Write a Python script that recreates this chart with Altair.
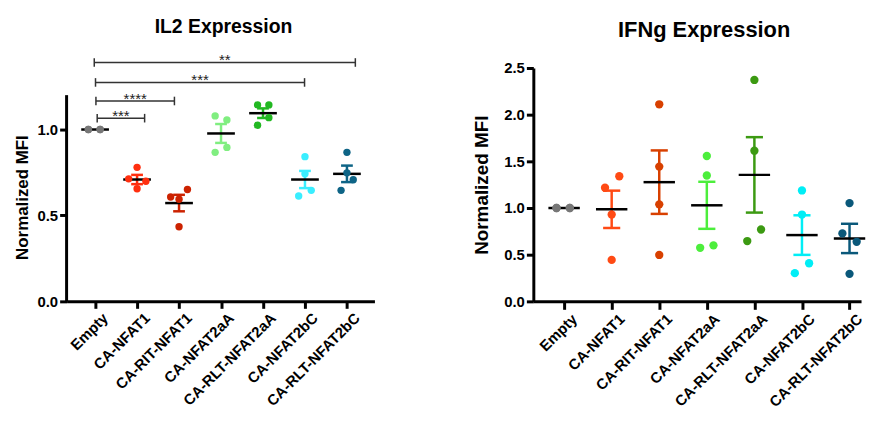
import altair as alt
import pandas as pd

FONT = "Liberation Sans"

categories = ["Empty", "CA-NFAT1", "CA-RIT-NFAT1", "CA-NFAT2aA",
              "CA-RLT-NFAT2aA", "CA-NFAT2bC", "CA-RLT-NFAT2bC"]

# ---- IL2 panel ----
il2_values = [
    [1.0, 1.0, 1.0, 1.0],
    [0.713, 0.780, 0.699, 0.655],
    [0.607, 0.594, 0.651, 0.434],
    [1.079, 1.056, 0.867, 0.896],
    [1.143, 1.143, 1.069, 1.025],
    [0.842, 0.742, 0.646, 0.613],
    [0.867, 0.748, 0.708, 0.646],
]
il2_jitter = [
    [-0.16, 0.12, -0.16, 0.12],
    [-0.2, 0.0, 0.21, 0.0],
    [-0.2, 0.0, 0.2, 0.0],
    [-0.14, 0.14, -0.14, 0.14],
    [-0.13, 0.14, 0.14, -0.13],
    [0.0, 0.0, 0.15, -0.15],
    [0.0, 0.0, 0.15, -0.14],
]
il2_mean = [1.0, 0.709, 0.572, 0.977, 1.095, 0.709, 0.742]
il2_sem = [0.0, 0.027, 0.048, 0.055, 0.028, 0.050, 0.048]
il2_colors = ["#777777", "#FF2F0F", "#CC2200", "#80EE80", "#22B822", "#3AEEFF", "#0E6486"]

sig_start = [0.05, 0.02, 0.01, -0.02]
sig_end = [1.18, 1.89, 4.99, 6.2]
sig_level = [1.066, 1.166, 1.274, 1.39]
sig_label = ["***", "****", "***", "**"]

# ---- IFNg panel ----
ifng_values = [
    [1.0, 1.0, 1.0, 1.0],
    [1.340, 1.217, 0.930, 0.444],
    [2.111, 1.444, 1.039, 0.497],
    [1.557, 1.348, 0.574, 0.600],
    [2.372, 1.614, 0.646, 0.770],
    [1.188, 0.930, 0.408, 0.302],
    [1.053, 0.728, 0.638, 0.295],
]
ifng_jitter = [
    [-0.16, 0.12, -0.16, 0.12],
    [0.16, -0.14, 0.0, 0.0],
    [0.0, 0.0, 0.0, 0.0],
    [0.0, 0.0, -0.14, 0.14],
    [0.0, 0.0, -0.15, 0.14],
    [0.0, 0.0, 0.15, -0.15],
    [0.0, -0.15, 0.15, 0.0],
]
ifng_mean = [1.0, 0.986, 1.277, 1.029, 1.355, 0.710, 0.674]
ifng_sem = [0.0, 0.200, 0.340, 0.252, 0.404, 0.212, 0.157]
ifng_colors = ["#777777", "#FF4A14", "#D84000", "#4CEE3C", "#3C9A12", "#00EEF6", "#0A587A"]

label_expr = "[" + ",".join('"%s"' % c for c in categories) + "][datum.value]"


def build_points(values, jitter, prefix):
    rows = []
    for i, (vals, offs) in enumerate(zip(values, jitter)):
        for v, o in zip(vals, offs):
            rows.append({"cat": prefix + categories[i], "xpos": i + o, "value": v})
    return pd.DataFrame(rows)


def build_summary(means, sems, prefix):
    return pd.DataFrame({"cat": [prefix + c for c in categories],
                         "idx": list(range(len(categories))),
                         "mean": means, "sem": sems})


def panel(values, jitter, means, sems, colors, prefix, xdom, ydom, yticks,
          xlabel_size, ytitle_size, dot_size, cap_half, show_ydomain, ytitle_pad,
          xtick_size, ytitle_y=None):
    xscale = alt.Scale(domain=xdom, nice=False, zero=False)
    yscale = alt.Scale(domain=ydom, nice=False, zero=False)
    xaxis = alt.Axis(values=list(range(len(categories))), labelExpr=label_expr,
                     labelAngle=-45, labelAlign="right", labelBaseline="top",
                     labelFontSize=xlabel_size, labelFont=FONT, labelFontWeight="bold",
                     labelColor="black", labelPadding=2, labelOffset=5,
                     tickSize=xtick_size, tickWidth=3,
                     tickColor="black", domainColor="black", domainWidth=3,
                     grid=False, title=None, labelOverlap=False)
    ykw = dict(values=yticks, format=".1f", labelFontSize=15, labelFont=FONT,
               labelFontWeight="bold", labelColor="black", labelPadding=2,
               tickSize=7, tickWidth=3, tickColor="black", domain=show_ydomain,
               domainColor="black", domainWidth=3, grid=False,
               title="Normalized MFI", titleFont=FONT, titleFontSize=ytitle_size,
               titleFontWeight="bold", titleColor="black", titlePadding=ytitle_pad)
    if ytitle_y is not None:
        ykw["titleY"] = ytitle_y
    yaxis = alt.Axis(**ykw)
    cscale = alt.Scale(domain=[prefix + c for c in categories], range=colors)

    pts = build_points(values, jitter, prefix)
    summ = build_summary(means, sems, prefix)

    base_s = alt.Chart(summ)
    err = base_s.transform_filter("datum.sem > 0").transform_calculate(
        lo="datum.mean - datum.sem", hi="datum.mean + datum.sem"
    ).mark_rule(strokeWidth=2.5).encode(
        x=alt.X("idx:Q", scale=xscale, axis=xaxis),
        y=alt.Y("lo:Q", scale=yscale, axis=yaxis),
        y2="hi:Q",
        color=alt.Color("cat:N", scale=cscale, legend=None),
    )
    caps_hi = base_s.transform_filter("datum.sem > 0").transform_calculate(
        a="datum.idx - %f" % cap_half, b="datum.idx + %f" % cap_half,
        yy="datum.mean + datum.sem"
    ).mark_rule(strokeWidth=2.5).encode(
        x=alt.X("a:Q", scale=xscale, axis=xaxis), x2="b:Q",
        y=alt.Y("yy:Q", scale=yscale, axis=yaxis),
        color=alt.Color("cat:N", scale=cscale, legend=None),
    )
    caps_lo = base_s.transform_filter("datum.sem > 0").transform_calculate(
        a="datum.idx - %f" % cap_half, b="datum.idx + %f" % cap_half,
        yy="datum.mean - datum.sem"
    ).mark_rule(strokeWidth=2.5).encode(
        x=alt.X("a:Q", scale=xscale, axis=xaxis), x2="b:Q",
        y=alt.Y("yy:Q", scale=yscale, axis=yaxis),
        color=alt.Color("cat:N", scale=cscale, legend=None),
    )
    mean_line = base_s.transform_calculate(
        a="datum.idx - 0.33", b="datum.idx + 0.33"
    ).mark_rule(strokeWidth=2.5, color="black").encode(
        x=alt.X("a:Q", scale=xscale, axis=xaxis), x2="b:Q",
        y=alt.Y("mean:Q", scale=yscale, axis=yaxis),
    )
    dots = alt.Chart(pts).mark_circle(size=dot_size, opacity=1).encode(
        x=alt.X("xpos:Q", scale=xscale, axis=xaxis),
        y=alt.Y("value:Q", scale=yscale, axis=yaxis),
        color=alt.Color("cat:N", scale=cscale, legend=None),
    )
    layers = [err, caps_hi, caps_lo, mean_line, dots]
    return layers, xscale, yscale, xaxis, yaxis


LX = [-0.679, 6.655]
left_layers, lxs, lys, lxa, lya = panel(
    il2_values, il2_jitter, il2_mean, il2_sem, il2_colors, "IL2 ",
    xdom=LX, ydom=[0, 1.358], yticks=[0, 0.5, 1.0],
    xlabel_size=15, ytitle_size=17, dot_size=55, cap_half=0.14,
    show_ydomain=False, ytitle_pad=6, xtick_size=7, ytitle_y=130)

# left y axis line drawn only up to 1.2
yline = alt.Chart(pd.DataFrame({"x": [LX[0]], "y1": [0.0], "y2": [1.2]})).mark_rule(
    strokeWidth=3, color="black").encode(
    x=alt.X("x:Q", scale=lxs, axis=lxa),
    y=alt.Y("y1:Q", scale=lys, axis=lya), y2="y2:Q")

sig = pd.DataFrame({"s": sig_start, "e": sig_end, "lvl": sig_level, "lab": sig_label})
sig_base = alt.Chart(sig)
sig_line = sig_base.mark_rule(strokeWidth=1.5, color="#333333").encode(
    x=alt.X("s:Q", scale=lxs, axis=lxa), x2="e:Q",
    y=alt.Y("lvl:Q", scale=lys, axis=lya))
sig_l = sig_base.transform_calculate(t1="datum.lvl - 0.025", t2="datum.lvl + 0.025").mark_rule(
    strokeWidth=1.5, color="#333333").encode(
    x=alt.X("s:Q", scale=lxs, axis=lxa),
    y=alt.Y("t1:Q", scale=lys, axis=lya), y2="t2:Q")
sig_r = sig_base.transform_calculate(t1="datum.lvl - 0.025", t2="datum.lvl + 0.025").mark_rule(
    strokeWidth=1.5, color="#333333").encode(
    x=alt.X("e:Q", scale=lxs, axis=lxa),
    y=alt.Y("t1:Q", scale=lys, axis=lya), y2="t2:Q")
sig_txt = sig_base.transform_calculate(m="(datum.s + datum.e) / 2").mark_text(
    font=FONT, fontSize=15, color="#222222", baseline="alphabetic", dy=3).encode(
    x=alt.X("m:Q", scale=lxs, axis=lxa),
    y=alt.Y("lvl:Q", scale=lys, axis=lya), text="lab:N")

left = alt.layer(*left_layers, yline, sig_line, sig_l, sig_r, sig_txt).properties(
    width=310, height=235, view=alt.ViewBackground(stroke=None),
    title=alt.TitleParams("IL2 Expression", font=FONT, fontSize=19.5, fontWeight="bold",
                          color="black", anchor="middle", frame="group", dx=3, offset=16))

RW = 330
right_layers, rxs, rys, rxa, rya = panel(
    ifng_values, ifng_jitter, ifng_mean, ifng_sem, ifng_colors, "IFNg ",
    xdom=[-0.647, 6.242], ydom=[0, 2.5], yticks=[0, 0.5, 1.0, 1.5, 2.0, 2.5],
    xlabel_size=15, ytitle_size=19, dot_size=70, cap_half=0.18,
    show_ydomain=True, ytitle_pad=12, xtick_size=8)

right = alt.layer(*right_layers).properties(
    width=RW, height=235, view=alt.ViewBackground(stroke=None),
    title=alt.TitleParams("IFNg Expression", font=FONT, fontSize=22, fontWeight="bold",
                          color="black", anchor="middle", frame="group", dx=7, offset=19))

chart = alt.hconcat(left, right, spacing=160, bounds="flush").resolve_scale(
    color="independent").properties(
    padding={"left": 5, "top": 7, "right": 0, "bottom": 0}
).configure_view(stroke=None).configure(background="white")

chart.save("out.html", embed_options={"renderer": "svg", "actions": False})
